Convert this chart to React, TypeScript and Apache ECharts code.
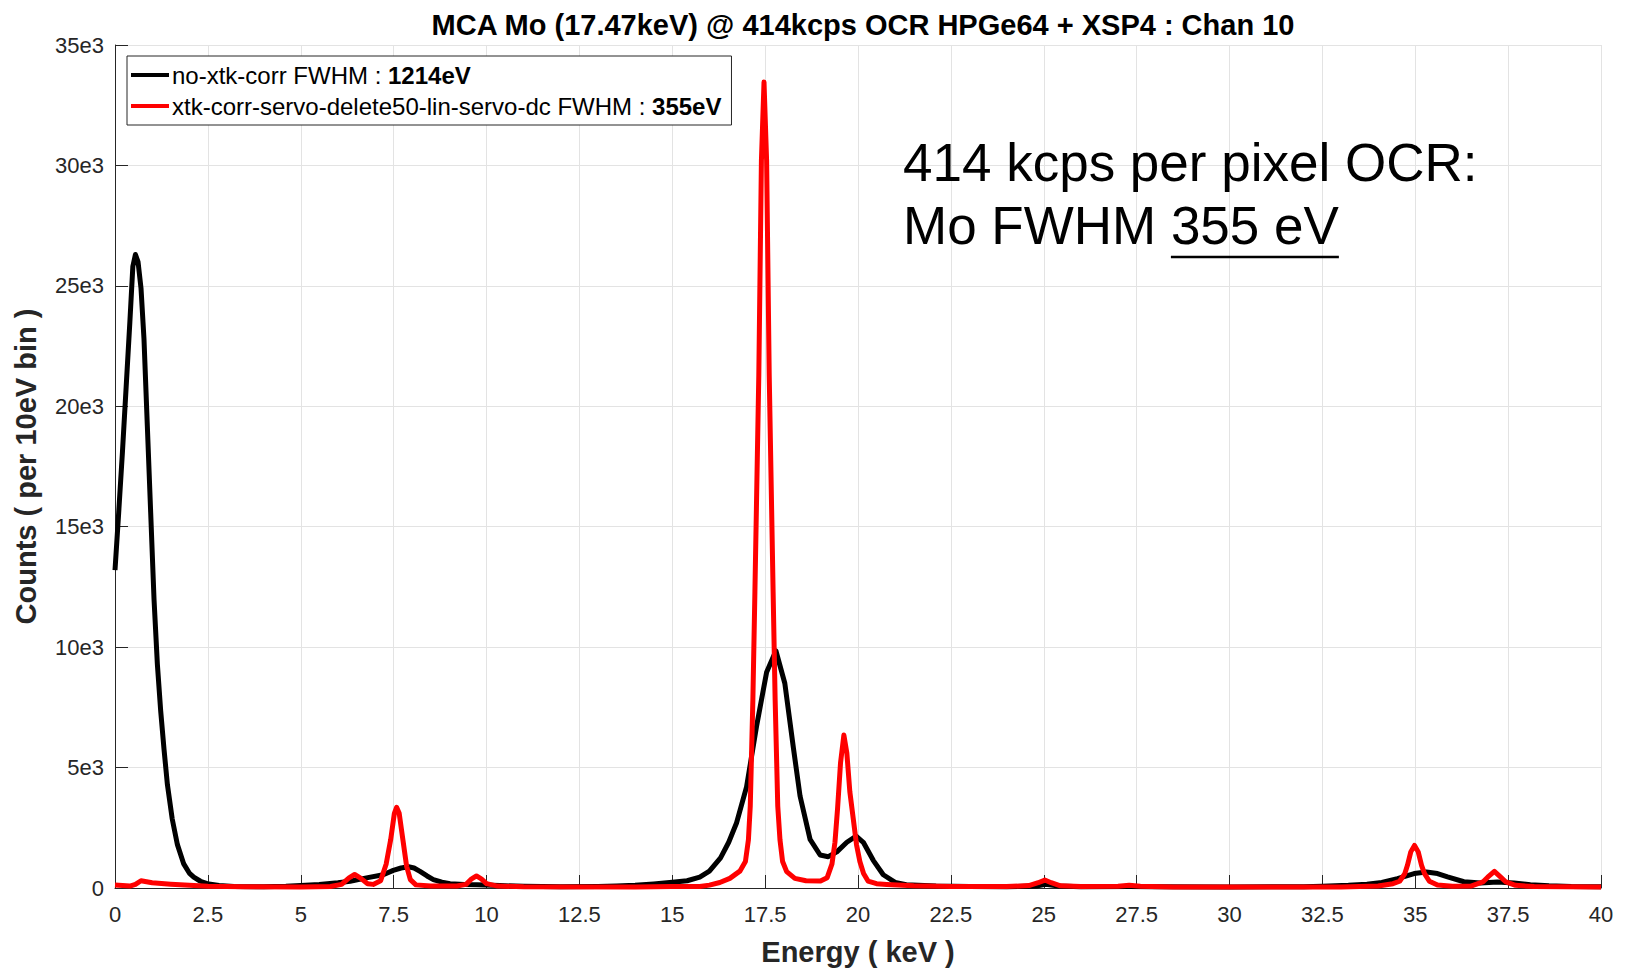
import React, { useEffect, useRef } from "react";
import * as echarts from "echarts";

// Spectrum without cross-talk correction: energy (keV) and counts per 10 eV bin
const rawEnergy = [
  0, 0.1, 0.2, 0.3, 0.4, 0.48, 0.55, 0.62, 0.7, 0.78, 0.87, 0.96, 1.05, 1.14, 1.23, 1.32, 1.41, 1.54,
  1.68, 1.85, 2.0, 2.12, 2.3, 2.48, 2.8, 3.2, 4.0, 4.6, 5.0, 5.5, 6.0, 6.33, 6.77, 7.22, 7.49, 7.7,
  7.9, 8.05, 8.21, 8.4, 8.57, 8.8, 9.02, 9.4, 9.74, 10.36, 11, 12, 13, 13.5, 14.0, 14.5, 15.0, 15.4,
  15.74, 16.0, 16.3, 16.52, 16.73, 17.0, 17.27, 17.54, 17.79, 18.03, 18.26, 18.44, 18.71, 18.98, 19.2,
  19.43, 19.7, 19.95, 20.15, 20.41, 20.68, 21.0, 21.3, 22.1, 23, 24, 24.8, 25.05, 25.4, 26, 27.3, 28,
  30, 32, 32.5, 33.2, 33.7, 34.1, 34.52, 34.97, 35.3, 35.6, 35.87, 36.31, 36.76, 37.21, 37.66, 38.1,
  38.6, 39.2, 40,
];
const rawCounts = [
  13200, 15600, 18100, 20800, 23500, 25800, 26300, 26000, 24900, 22800, 19200, 15600, 12000, 9300, 7350,
  5750, 4300, 2870, 1800, 1000, 620, 450, 280, 180, 100, 60, 50, 70, 100, 150, 220, 280, 420, 550, 730,
  830, 880, 830, 690, 500, 350, 240, 180, 150, 140, 100, 70, 50, 60, 80, 110, 170, 240, 300, 450, 700,
  1250, 1900, 2700, 4200, 6720, 8960, 9850, 8500, 5830, 3820, 2020, 1370, 1300, 1500, 1900, 2150, 1880,
  1150, 550, 230, 140, 80, 60, 55, 80, 150, 80, 55, 60, 50, 45, 55, 70, 110, 160, 230, 390, 600, 660,
  600, 460, 260, 210, 250, 210, 140, 90, 60, 50,
];

// Spectrum with cross-talk correction (servo, delete50, lin-servo, dc)
const corrEnergy = [
  0, 0.2, 0.4, 0.55, 0.7, 0.85, 1.0, 1.5, 2.0, 2.5, 3.5, 5.0, 5.8, 6.1, 6.3, 6.45, 6.6, 6.8, 6.95, 7.15,
  7.3, 7.42, 7.52, 7.58, 7.65, 7.75, 7.85, 7.95, 8.1, 8.5, 9.2, 9.45, 9.6, 9.73, 9.86, 10.0, 10.3, 11,
  14, 15, 15.74, 16.0, 16.28, 16.55, 16.82, 16.97, 17.05, 17.1, 17.17, 17.225, 17.33, 17.4, 17.47,
  17.54, 17.61, 17.715, 17.77, 17.84, 17.9, 17.97, 18.08, 18.3, 18.6, 18.99, 19.17, 19.3, 19.38, 19.45,
  19.53, 19.62, 19.7, 19.78, 19.87, 19.96, 20.05, 20.15, 20.27, 20.5, 20.77, 21.5, 22.5, 24, 24.6,
  24.85, 25.03, 25.2, 25.45, 26, 27.0, 27.3, 27.6, 28.5, 33, 34.0, 34.4, 34.58, 34.72, 34.79, 34.88,
  34.98, 35.08, 35.17, 35.25, 35.38, 35.6, 36.0, 36.5, 36.82, 36.95, 37.13, 37.3, 37.44, 37.7, 38.2, 40,
];
const corrCounts = [
  120, 100, 80, 150, 300, 260, 220, 160, 110, 70, 50, 40, 60, 150, 420, 560, 420, 180, 150, 300, 1000,
  2000, 3100, 3350, 3100, 2000, 900, 350, 130, 80, 80, 150, 380, 500, 380, 180, 80, 50, 40, 60, 60, 120,
  230, 400, 700, 1100, 2000, 3400, 7800, 12300, 21300, 30200, 33460, 30200, 21300, 12300, 7800, 3400,
  2000, 1100, 680, 400, 300, 290, 430, 1000, 1900, 3300, 5200, 6350, 5600, 4000, 2900, 1800, 1100, 600,
  290, 180, 150, 90, 60, 60, 100, 220, 330, 220, 90, 60, 70, 110, 70, 40, 40, 80, 180, 280, 600, 940,
  1500, 1770, 1500, 940, 600, 280, 120, 70, 80, 250, 450, 690, 450, 250, 110, 60, 40,
];

const seriesNames = ["no-xtk-corr FWHM", "xtk-corr-servo-delete50-lin-servo-dc FWHM"];
const fwhmLabels = ["1214eV", "355eV"];
const seriesColors = ["#000000", "#ff0000"];

const xTicks = { min: 0, max: 40, step: 2.5 };
const yTicks = { min: 0, max: 35000, step: 5000 };

const titleText = "MCA Mo (17.47keV) @ 414kcps OCR HPGe64 + XSP4 : Chan 10";
const xName = "Energy ( keV )";
const yName = "Counts ( per 10eV bin )";
const noteLine1 = "414 kcps per pixel OCR:";
const noteLine2a = "Mo FWHM ";
const noteLine2b = "355 eV";

const FONT = "'Liberation Sans', Arial, Helvetica, sans-serif";
const AXIS_COLOR = "#262626";

function pairs(xs: number[], ys: number[]) {
  return xs.map((x, i) => [x, ys[i]]);
}

function measure(text: string, size: number, weight = "normal") {
  const ctx = document.createElement("canvas").getContext("2d");
  if (!ctx) return text.length * size * 0.5;
  ctx.font = `${weight} ${size}px ${FONT}`;
  return ctx.measureText(text).width;
}

export default function App() {
  const ref = useRef<HTMLDivElement>(null);

  useEffect(() => {
    if (!ref.current) return;
    const chart = echarts.init(ref.current, undefined, { renderer: "svg" });

    const noteSize = 53;
    const noteX = 903;
    const w2a = measure(noteLine2a, noteSize);
    const w2b = measure(noteLine2b, noteSize);

    const legendLabel: Record<string, string> = {};
    seriesNames.forEach((n, i) => (legendLabel[n] = fwhmLabels[i]));

    chart.setOption({
      animation: false,
      backgroundColor: "#ffffff",
      textStyle: { fontFamily: FONT },
      title: {
        text: titleText,
        left: 858,
        textAlign: "center",
        top: 5,
        textStyle: { fontSize: 29, fontWeight: "bold", color: "#000", fontFamily: FONT },
      },
      grid: {
        left: 115,
        right: 29,
        top: 45,
        bottom: 83,
        containLabel: false,
        outerBoundsMode: "none",
      },
      legend: {
        orient: "vertical",
        left: 127,
        top: 56,
        padding: [7, 10, 7, 4],
        itemGap: 7,
        itemWidth: 38,
        itemHeight: 4,
        icon: "rect",
        backgroundColor: "#ffffff",
        borderColor: AXIS_COLOR,
        borderWidth: 1,
        borderRadius: 0,
        data: seriesNames,
        formatter: (name: string) => `${name} : {b|${legendLabel[name]}}`,
        textStyle: {
          fontSize: 24,
          color: "#000",
          fontFamily: FONT,
          padding: [0, 0, 0, -2],
          rich: { b: { fontSize: 24, fontWeight: "bold", color: "#000", fontFamily: FONT } },
        },
      },
      xAxis: {
        type: "value",
        min: xTicks.min,
        max: xTicks.max,
        interval: xTicks.step,
        name: xName,
        nameLocation: "middle",
        nameGap: 49,
        nameTextStyle: { fontSize: 29, fontWeight: "bold", color: AXIS_COLOR, fontFamily: FONT },
        axisLine: { lineStyle: { color: AXIS_COLOR, width: 1 } },
        axisTick: { inside: true, length: 13, lineStyle: { color: AXIS_COLOR, width: 1 } },
        splitLine: { show: true, lineStyle: { color: "#e3e3e3", width: 1 } },
        axisLabel: { fontSize: 22, color: AXIS_COLOR, margin: 15, fontFamily: FONT },
      },
      yAxis: {
        type: "value",
        min: yTicks.min,
        max: yTicks.max,
        interval: yTicks.step,
        name: yName,
        nameLocation: "middle",
        nameGap: 75,
        nameTextStyle: { fontSize: 29, fontWeight: "bold", color: AXIS_COLOR, fontFamily: FONT },
        axisLine: { show: true, lineStyle: { color: AXIS_COLOR, width: 1 } },
        axisTick: { show: true, inside: true, length: 13, lineStyle: { color: AXIS_COLOR, width: 1 } },
        splitLine: { show: true, lineStyle: { color: "#e3e3e3", width: 1 } },
        axisLabel: {
          fontSize: 22,
          color: AXIS_COLOR,
          margin: 11,
          fontFamily: FONT,
          formatter: (v: number) => (v === 0 ? "0" : `${v / 1000}e3`),
        },
      },
      series: [
        {
          name: seriesNames[0],
          type: "line",
          data: pairs(rawEnergy, rawCounts),
          symbol: "none",
          color: seriesColors[0],
          lineStyle: { color: seriesColors[0], width: 5, join: "round" },
          z: 2,
        },
        {
          name: seriesNames[1],
          type: "line",
          data: pairs(corrEnergy, corrCounts),
          symbol: "none",
          color: seriesColors[1],
          lineStyle: { color: seriesColors[1], width: 5, join: "round" },
          z: 3,
        },
      ],
      graphic: [
        {
          type: "text",
          left: noteX,
          top: 166 - noteSize * 0.56,
          style: { text: noteLine1, fontSize: noteSize, fill: "#000", fontFamily: FONT },
          z: 10,
        },
        {
          type: "text",
          left: noteX,
          top: 229 - noteSize * 0.56,
          style: { text: noteLine2a, fontSize: noteSize, fill: "#000", fontFamily: FONT },
          z: 10,
        },
        {
          type: "text",
          left: noteX + w2a,
          top: 229 - noteSize * 0.56,
          style: { text: noteLine2b, fontSize: noteSize, fill: "#000", fontFamily: FONT },
          z: 10,
        },
        {
          type: "line",
          shape: { x1: noteX + w2a, y1: 257, x2: noteX + w2a + w2b, y2: 257 },
          style: { stroke: "#000", lineWidth: 2.5 },
          z: 10,
        },
      ],
    });

    return () => chart.dispose();
  }, []);

  return (
    <div
      ref={ref}
      style={{ position: "fixed", left: 0, top: 0, width: 1630, height: 971, background: "#fff" }}
    />
  );
}
